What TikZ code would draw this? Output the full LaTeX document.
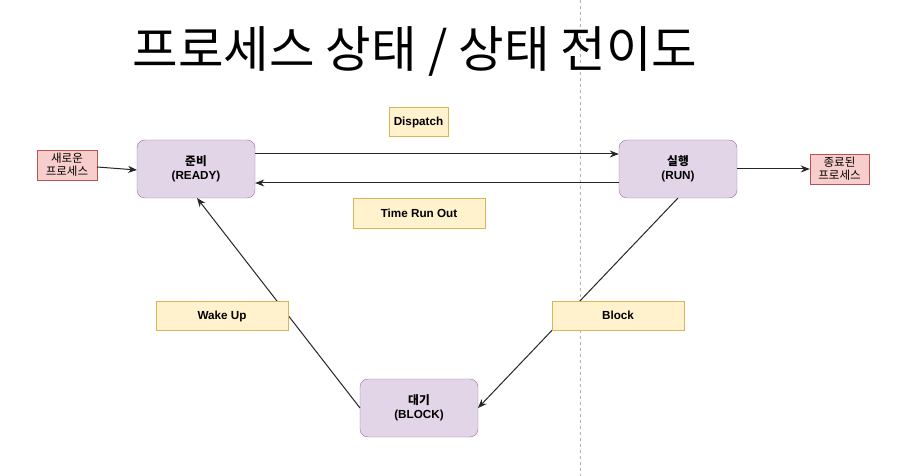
\documentclass[tikz,border=0pt]{standalone}
\usepackage{fontspec}
\setmainfont{Liberation Sans}
\newfontfamily\kr{Noto Sans CJK KR}
\usetikzlibrary{arrows.meta}
\definecolor{stfill}{HTML}{E1D5E7}
\definecolor{stdraw}{HTML}{9673A6}
\definecolor{rdfill}{HTML}{F8CECC}
\definecolor{rddraw}{HTML}{B85450}
\definecolor{ylfill}{HTML}{FFF2CC}
\definecolor{yldraw}{HTML}{D6B656}
\tikzset{
  state/.style={draw=stdraw, fill=stfill, rounded corners=8pt, minimum width=118pt, minimum height=58pt, align=center, font=\bfseries\fontsize{11.7}{14.5}\selectfont, inner sep=0pt},
  term/.style={draw=rddraw, fill=rdfill, minimum width=60pt, minimum height=30pt, align=center, font=\fontsize{11.5}{13}\selectfont, inner sep=0pt},
  lbl/.style={draw=yldraw, fill=ylfill, minimum height=29pt, align=center, font=\bfseries\fontsize{11.7}{13}\selectfont, inner sep=0pt, text depth=0pt},
  arr/.style={draw=black!85, line width=1pt, -{Stealth[length=9pt,width=7pt]}}
}
\begin{document}
\begin{tikzpicture}[x=1pt,y=-1pt]
\useasboundingbox[fill=white] (0,0) rectangle (903,476);
\draw[gray!60, dashed, line width=0.8pt] (580,0) -- (580,476);
\node[font=\kr\fontsize{49.5}{54}\selectfont] (title) at (415,51) {프로세스 상태 / 상태 전이도};
\node[state] (ready) at (196,169) {{\kr 준비}\\(READY)};
\node[state] (run) at (678,169) {{\kr 실행}\\(RUN)};
\node[state] (block) at (419,408) {{\kr 대기}\\(BLOCK)};
\node[term] (new) at (67,165) {\kr 새로운\\\kr 프로세스};
\node[term, minimum width=59pt] (done) at (839.5,169) {\kr 종료된\\\kr 프로세스};
\coordinate (newA) at (97,167);
\coordinate (readyA) at (137,170);
\draw[arr] (newA) -- (readyA);
\draw[arr] (ready.east |- 0,154) -- (run.west |- 0,154);
\draw[arr] (run.west |- 0,183) -- (ready.east |- 0,183);
\draw[arr] (run.east) -- (done.west);
\coordinate (runB) at (678,198);
\coordinate (blockE) at (478,408);
\draw[arr] (runB) -- (blockE);
\coordinate (blockW) at (360,408);
\coordinate (readyB) at (197,198);
\draw[arr] (blockW) -- (readyB);
\node[lbl, minimum width=59pt] (disp) at (418.5,121.5) {Dispatch};
\node[lbl, minimum width=132pt, minimum height=30pt] (tro) at (419,213) {Time Run Out};
\node[lbl, minimum width=132pt] (wake) at (222,315.5) {Wake Up};
\node[lbl, minimum width=132pt] (blk) at (618,315.5) {Block};
\end{tikzpicture}
\end{document}
